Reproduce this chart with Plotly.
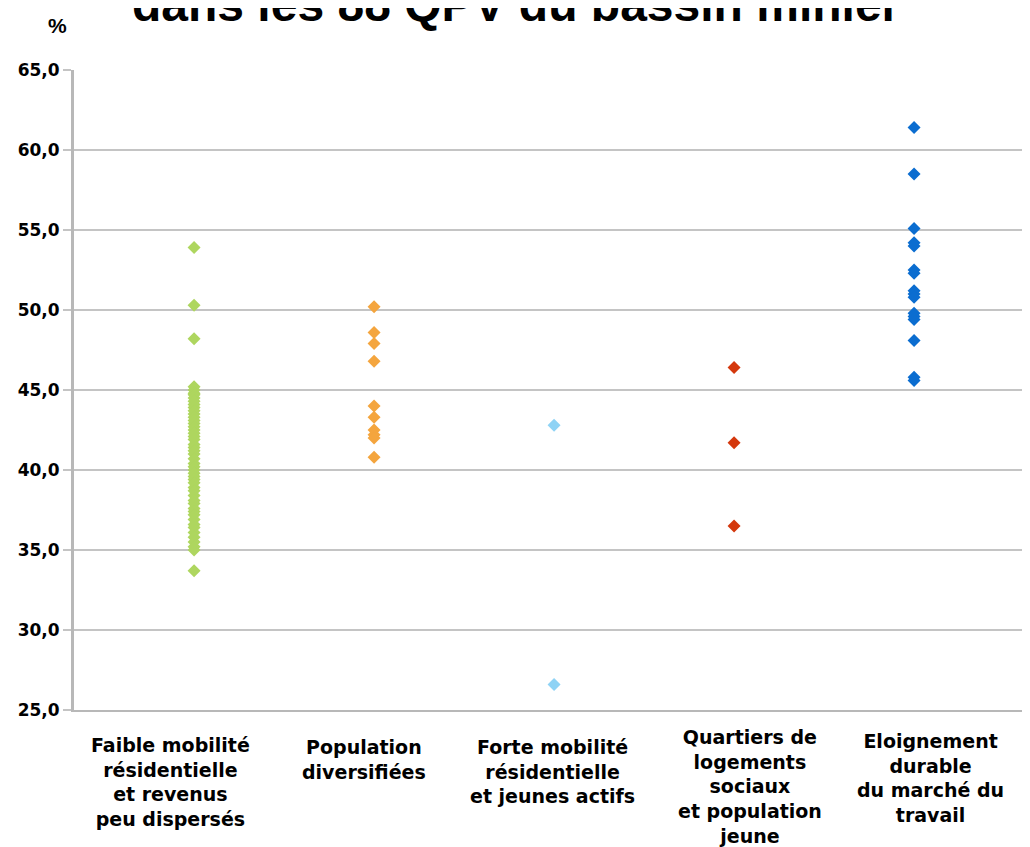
import plotly.graph_objects as go

categories = [
    "Faible mobilité<br>résidentielle<br>et revenus<br>peu dispersés",
    "Population<br>diversifiées",
    "Forte mobilité<br>résidentielle<br>et jeunes actifs",
    "Quartiers de<br>logements<br>sociaux<br>et population<br>jeune",
    "Eloignement<br>durable<br>du marché du<br>travail",
]

faible_mobilite = [53.9, 50.3, 48.2,
                   45.2, 45.0, 44.8, 44.7, 44.5, 44.3, 44.1, 43.9, 43.7, 43.5,
                   43.3, 43.1, 42.9, 42.7, 42.5, 42.3, 42.1, 41.9, 41.6, 41.4,
                   41.2, 41.0, 40.7, 40.4, 40.2, 40.0, 39.8, 39.6, 39.4, 39.2,
                   38.9, 38.7, 38.4, 38.1, 37.9, 37.6, 37.4, 37.2, 36.9, 36.6,
                   36.4, 36.1, 35.8, 35.5, 35.2, 35.0, 33.7]
population_diversifiee = [50.2, 48.6, 47.9, 46.8, 44.0, 43.3, 42.5, 42.2, 42.0, 40.8]
forte_mobilite = [42.8, 26.6]
logements_sociaux = [46.4, 41.7, 36.5]
eloignement = [61.4, 58.5, 55.1, 54.2, 54.0, 52.5, 52.3, 51.2, 51.0, 50.8,
               49.8, 49.6, 49.4, 48.1, 45.8, 45.6]

series = [faible_mobilite, population_diversifiee, forte_mobilite,
          logements_sociaux, eloignement]
colors = ["#aed65f", "#f4a53e", "#8fd3f5", "#d4380d", "#0b6dd0"]

y_ticks = [25, 30, 35, 40, 45, 50, 55, 60, 65]
y_ticktext = ["25,0", "30,0", "35,0", "40,0", "45,0", "50,0", "55,0", "60,0", "65,0"]

# label placement (x in category units, y in paper units) - layout only
label_x = [-0.133, 0.944, 1.989, 3.089, 4.094]
label_y = [-0.0350, -0.0380, -0.0380, -0.0215, -0.0285]

fig = go.Figure()
for i, (vals, col) in enumerate(zip(series, colors)):
    fig.add_trace(go.Scatter(
        x=[i] * len(vals), y=vals, mode="markers",
        marker=dict(symbol="diamond", size=10, color=col, line=dict(width=0)),
        showlegend=False, hoverinfo="y",
    ))

annotations = [dict(text="<b>%</b>", xref="paper", yref="paper",
                    x=-0.0168, y=1.0703,
                    xanchor="center", yanchor="middle", showarrow=False,
                    font=dict(family="Liberation Sans", size=21, color="#000000")),
               dict(text="<b>dans les 88 QPV du bassin minier</b>", xref="paper", yref="paper",
                    x=0.4638, y=1.103, xanchor="center", yanchor="middle", showarrow=False,
                    font=dict(family="Liberation Sans", size=48, color="#000000"))]
for cat, lx, ly in zip(categories, label_x, label_y):
    annotations.append(dict(text="<b>" + cat + "</b>", xref="x", yref="paper",
                            x=lx, y=ly, xanchor="center", yanchor="top",
                            align="center", showarrow=False,
                            font=dict(family="DejaVu Sans", size=19, color="#000000")))

fig.update_layout(
    width=1022, height=839,
    margin=dict(l=66, r=2, t=62, b=137),
    paper_bgcolor="white", plot_bgcolor="white",
    font=dict(family="DejaVu Sans", color="#000000"),
    xaxis=dict(range=[-0.667, 4.633], showticklabels=False,
               showgrid=False, zeroline=False, ticks="",
               showline=True, linecolor="#b8b8b8", linewidth=2),
    yaxis=dict(range=[25, 65], tickmode="array", tickvals=y_ticks,
               ticktext=["<b>" + t + "</b>" for t in y_ticktext],
               tickfont=dict(family="DejaVu Sans", size=17, color="#000000"),
               showgrid=True, gridcolor="#c4c4c4", gridwidth=2,
               zeroline=False, ticks="outside", ticklen=8, tickcolor="#c4c4c4",
               tickwidth=2, showline=True, linecolor="#b8b8b8", linewidth=3),
    annotations=annotations,
)

fig.write_html("out.html")
